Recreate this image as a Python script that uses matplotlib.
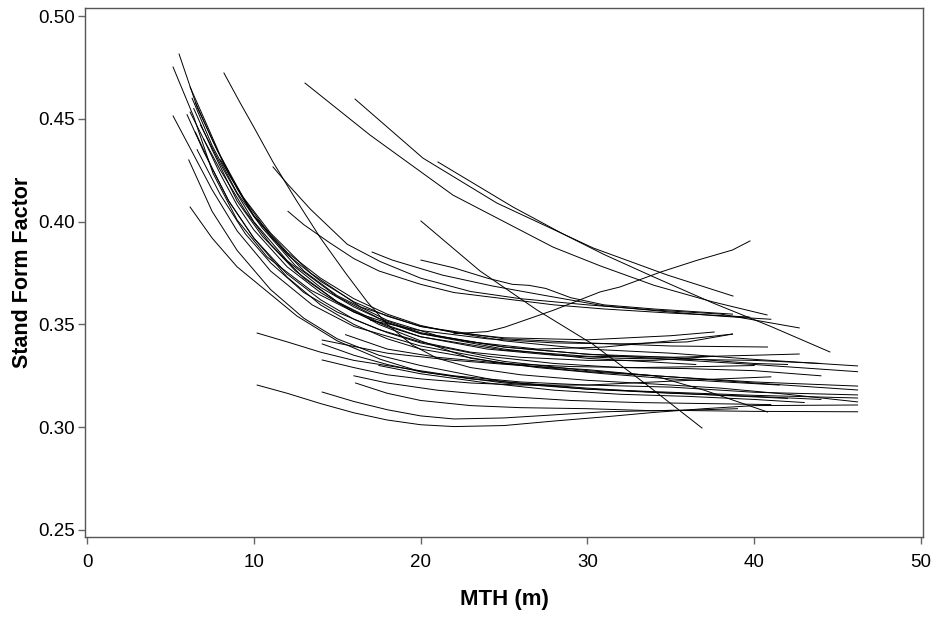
import matplotlib
matplotlib.use("Agg")
import matplotlib.pyplot as plt

# Stand form factor trajectories (MTH in m, form factor)
c01_x = [5.52, 6.6, 7.8, 9.35, 11, 13.4, 16.4, 20, 25, 30, 35, 40, 46.2]
c01_y = [.4815, .4557, .4348, .412, .3945, .375, .3585, .349, .342, .338, .336, .333, .3298]
c02_x = [5.16, 6.4, 7.55, 9.0, 10.8, 13.4, 16, 20, 25, 30, 35, 40, 46.2]
c02_y = [.4752, .4509, .4236, .4008, .3828, .3667, .356, .3455, .339, .3355, .333, .3305, .327]
c03_x = [5.16, 6.2, 7.5, 9, 11, 13.5, 16, 20, 25, 30, 35, 40, 46.2]
c03_y = [.4514, .4355, .4155, .3955, .376, .3595, .349, .3395, .332, .3275, .3245, .3215, .3181]
c04_x = [6.18, 7.5, 9, 10.8, 12.6, 15, 17.6, 20, 25, 30, 35, 40, 46.2]
c04_y = [.4071, .392, .378, .366, .354, .342, .333, .327, .3215, .3185, .317, .3155, .3142]
c05_x = [8.21, 9.2, 10, 11.15, 12.5, 14, 15.5, 16.8, 18, 19.5, 21, 23, 26, 30, 34, 38, 42, 46.2]
c05_y = [.4723, .4575, .446, .429, .411, .392, .375, .361, .35, .34, .3335, .329, .3255, .3228, .321, .319, .316, .3123]
c06_x = [6.18, 7, 8, 9, 10, 12, 14, 16, 18, 20, 25, 30, 35, 40.8]
c06_y = [.4655, .4505, .432, .416, .4025, .384, .371, .361, .354, .349, .343, .341, .3395, .339]
c07_x = [6.18, 7, 8, 9, 10, 12, 14, 16, 18, 20, 25, 30, 35, 40, 42.7]
c07_y = [.4533, .44, .423, .408, .396, .378, .3655, .356, .349, .344, .3375, .3345, .334, .335, .3356]
c08_x = [6.5, 7.5, 8.5, 10, 12, 14, 16, 18, 20, 22, 25, 30, 35, 37.6]
c08_y = [.458, .44, .423, .403, .385, .3725, .3625, .355, .3495, .346, .3435, .3425, .3445, .3463]
c09_x = [6.5, 7.5, 8.5, 10, 12, 14, 16, 18, 20, 25, 30, 35, 40, 46.2]
c09_y = [.4435, .426, .41, .392, .373, .3595, .35, .343, .338, .331, .327, .3245, .322, .320]
c10_x = [6.8, 8, 9, 10, 12, 14, 16, 18, 20, 25, 30, 36.5]
c10_y = [.447, .428, .4135, .4, .381, .368, .3585, .351, .3455, .338, .3335, .3305]
c11_x = [10.2, 12, 14, 16, 18.9, 22, 26, 30, 35, 40, 46.2]
c11_y = [.3458, .3415, .3365, .3325, .3288, .325, .322, .3205, .3195, .317, .3157]
c12_x = [10.2, 12, 14, 16, 18, 20, 22, 25, 28, 31, 34, 37, 40, 46.2]
c12_y = [.3205, .3165, .3115, .307, .3035, .3012, .3003, .3008, .303, .305, .3072, .309, .3105, .3108]
c13_x = [14.1, 16, 18, 20, 22, 25, 28, 31, 35, 40, 46.2]
c13_y = [.3171, .3125, .3085, .3055, .304, .3045, .306, .3075, .3082, .3077, .3075]
c14_x = [16.1, 18, 20, 23, 26, 30, 34, 37, 39]
c14_y = [.3215, .3165, .313, .3105, .3095, .309, .308, .3085, .309]
c15_x = [14.1, 18, 22, 26, 30, 34, 37, 40.8]
c15_y = [.3424, .336, .3325, .33, .328, .325, .318, .3074]
c16_x = [14.1, 16, 18, 20, 23, 26, 30, 34, 38, 41]
c16_y = [.3327, .329, .3255, .3235, .3215, .3205, .3205, .322, .3235, .3245]
c17_x = [12.05, 13, 14.5, 16, 17.5, 20, 22, 25, 28, 31, 35, 39.7]
c17_y = [.405, .3985, .39, .382, .376, .3695, .3655, .3625, .3595, .3575, .3555, .3536]
c18_x = [17.09, 18.3, 21.3, 24.3, 27.3, 31, 35, 38, 41]
c18_y = [.3852, .3813, .374, .3687, .3643, .359, .356, .354, .3525]
c19_x = [20.02, 22, 24, 25.5, 26.5, 27.5, 29, 31, 34, 38.7]
c19_y = [.3813, .3775, .3725, .3695, .369, .3675, .363, .3595, .3575, .355]
c20_x = [13.07, 16.97, 21.94, 27.94, 30.76, 34, 37.5, 40.77]
c20_y = [.4674, .4421, .4129, .3876, .3785, .369, .361, .3546]
c21_x = [16.07, 20.14, 24.58, 30.34, 34.8, 38.73]
c21_y = [.4596, .4309, .409, .3872, .374, .3638]
c22_x = [21.04, 25.54, 28.54, 31, 34, 37.5, 41, 44.54]
c22_y = [.429, .4071, .394, .384, .373, .3605, .349, .3366]
c23_x = [20.02, 23.56, 26.98, 30.3, 33.5, 36.87]
c23_y = [.4003, .376, .357, .3405, .321, .2996]
c24_x = [22, 24, 25.06, 28, 30.76, 31.95, 34.4, 36.5, 38.7, 39.75]
c24_y = [.3455, .3465, .3487, .357, .3658, .3682, .3755, .381, .3862, .3906]
c25_x = [11.15, 12, 13.4, 15.6, 17.6, 20, 23, 26, 30, 34, 38, 42.7]
c25_y = [.4266, .4185, .406, .389, .3805, .3725, .366, .3625, .3595, .357, .355, .3483]
c26_x = [6.3, 7.5, 9, 10.5, 12.5, 15, 17.5, 20, 23, 27, 31, 35, 38.7]
c26_y = [.46, .437, .414, .397, .3785, .3635, .353, .346, .3415, .338, .339, .342, .3453]
c27_x = [7, 8, 9.5, 11, 13, 15, 17.5, 20, 23, 27, 31, 35, 41.5]
c27_y = [.44, .425, .405, .389, .3725, .361, .35, .342, .3335, .329, .326, .3235, .3205]
c28_x = [6.0, 7, 8.5, 10, 12, 14, 16, 18, 20, 24, 28, 32, 36, 40, 44]
c28_y = [.452, .434, .41, .392, .3745, .362, .3525, .346, .341, .3345, .331, .329, .3285, .3275, .325]
c29_x = [6.6, 8, 9.5, 11, 13, 15, 17.5, 20, 23, 26, 30, 34, 37.6]
c29_y = [.435, .413, .394, .38, .3655, .356, .3475, .3415, .3365, .334, .3325, .3325, .3345]
c30_x = [14.1, 16, 18, 20, 23, 26, 30, 34, 38, 42]
c30_y = [.3405, .335, .3305, .327, .3235, .3215, .319, .317, .3155, .314]
c31_x = [6.4, 7.5, 9, 10.5, 12.5, 15, 17.5, 20, 24, 28, 32, 36, 40, 44]
c31_y = [.455, .435, .41, .393, .376, .361, .351, .344, .338, .335, .3335, .333, .3325, .331]
c32_x = [17, 20, 24, 28, 32, 36, 38.7]
c32_y = [.352, .347, .343, .341, .3405, .3415, .3453]
c33_x = [15.5, 18, 21, 25, 29, 33, 37, 40]
c33_y = [.345, .338, .334, .331, .3295, .329, .3295, .33]
c34_x = [8, 9.5, 11, 13, 15, 18, 21, 25, 30, 35, 40, 42]
c34_y = [.43, .41, .393, .376, .364, .352, .3445, .339, .3355, .334, .331, .3305]
c35_x = [6.1, 7.5, 9, 11, 13, 15, 17.5, 20, 25, 30, 35, 40, 44]
c35_y = [.43, .405, .386, .367, .353, .343, .335, .33, .322, .3185, .3165, .315, .3135]
c36_x = [17.5, 20, 24, 28, 32, 36, 40, 43]
c36_y = [.33, .326, .3215, .318, .316, .315, .3135, .312]
c37_x = [16, 18, 21, 25, 29, 33, 37, 41]
c37_y = [.325, .3215, .318, .315, .313, .312, .3115, .311]

curves = [
    (c01_x, c01_y), (c02_x, c02_y), (c03_x, c03_y), (c04_x, c04_y), (c05_x, c05_y),
    (c06_x, c06_y), (c07_x, c07_y), (c08_x, c08_y), (c09_x, c09_y), (c10_x, c10_y),
    (c11_x, c11_y), (c12_x, c12_y), (c13_x, c13_y), (c14_x, c14_y), (c15_x, c15_y),
    (c16_x, c16_y), (c17_x, c17_y), (c18_x, c18_y), (c19_x, c19_y), (c20_x, c20_y),
    (c21_x, c21_y), (c22_x, c22_y), (c23_x, c23_y), (c24_x, c24_y), (c25_x, c25_y),
    (c26_x, c26_y), (c27_x, c27_y), (c28_x, c28_y), (c29_x, c29_y), (c30_x, c30_y),
    (c31_x, c31_y), (c32_x, c32_y), (c33_x, c33_y), (c34_x, c34_y), (c35_x, c35_y),
    (c36_x, c36_y), (c37_x, c37_y),
]

x_ticks = [0, 10, 20, 30, 40, 50]
y_ticks = [0.25, 0.30, 0.35, 0.40, 0.45, 0.50]

plt.rcParams["font.family"] = ["Liberation Sans", "DejaVu Sans"]

fig = plt.figure(figsize=(9.31, 6.17), dpi=100)
ax = fig.add_axes([0.0913, 0.1297, 0.9001, 0.8573])

for xs, ys in curves:
    ax.plot(xs, ys, color="black", lw=0.7)

ax.set_xlim(-0.12, 50.12)
ax.set_ylim(0.2466, 0.5039)
ax.set_xticks(x_ticks)
ax.set_xticklabels([str(t) for t in x_ticks])
ax.set_yticks(y_ticks)
ax.set_yticklabels([f"{t:.2f}" for t in y_ticks])
ax.tick_params(direction="out", length=5, width=1, color="#666666", labelsize=13.5, pad=2)
ax.tick_params(axis="x", pad=7)
for s in ax.spines.values():
    s.set_color("#555555")
    s.set_linewidth(1)

ax.set_xlabel("MTH (m)", fontsize=16, fontweight="bold", labelpad=13)
ax.set_ylabel("Stand Form Factor", fontsize=15.5, fontweight="bold", labelpad=4)

fig.savefig("out.png", dpi=100)
